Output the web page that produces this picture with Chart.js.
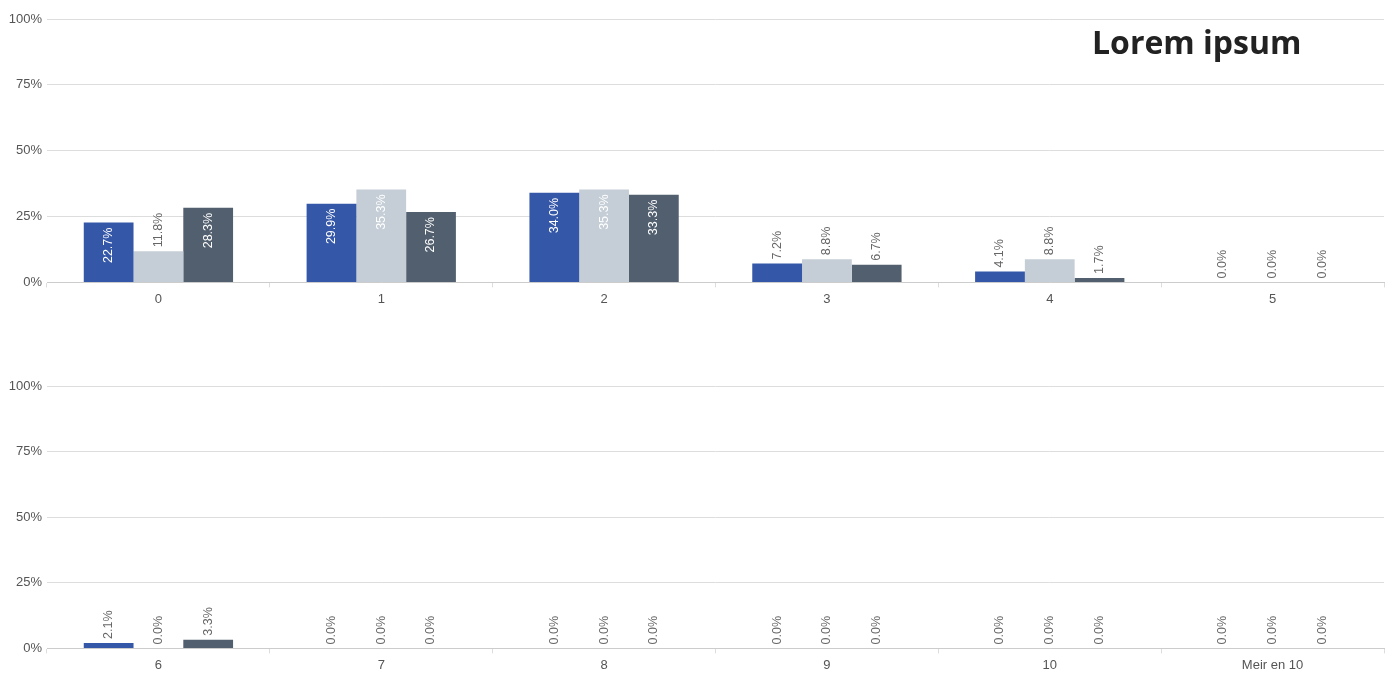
<!DOCTYPE html>
<html lang="en">
<head>
    <meta charset="UTF-8">
    <title>Lorem ipsum</title>
    <script src="https://cdn.jsdelivr.net/npm/chart.js"></script>
    <style>
        body { margin: 0; background: #fff; width: 1391px; height: 677px; overflow: hidden; position: relative; }
        .panel { position: absolute; left: 0; width: 1391px; }
        #title { position: absolute; left: 1092px; top: 20px; font-family: "Open Sans", sans-serif; font-weight: 700; font-size: 32px; color: #222; line-height: 44px; margin: 0; }
    </style>
</head>
<body>
    <div class="panel" style="top:0;height:311px"><canvas id="chartTop" width="1391" height="311"></canvas></div>
    <div class="panel" style="top:367px;height:310px"><canvas id="chartBottom" width="1391" height="310"></canvas></div>
    <h1 id="title">Lorem ipsum</h1>

    <script>
        // categories for the two panels
        const topLabels = ['0', '1', '2', '3', '4', '5'];
        const bottomLabels = ['6', '7', '8', '9', '10', 'Meir en 10'];

        // series values (percent)
        const serieA = [22.7, 29.9, 34.0, 7.2, 4.1, 0.0, 2.1, 0.0, 0.0, 0.0, 0.0, 0.0];
        const serieB = [11.8, 35.3, 35.3, 8.8, 8.8, 0.0, 0.0, 0.0, 0.0, 0.0, 0.0, 0.0];
        const serieC = [28.3, 26.7, 33.3, 6.7, 1.7, 0.0, 3.3, 0.0, 0.0, 0.0, 0.0, 0.0];

        const yTicks = [0, 25, 50, 75, 100];
        const colors = ['#3557a8', '#c5ced6', '#525f6e'];

        // value labels drawn rotated, inside the bar when they fit, otherwise above
        const barLabels = {
            id: 'barLabels',
            afterDatasetsDraw(chart) {
                const ctx = chart.ctx;
                ctx.save();
                ctx.font = '12.5px "Liberation Sans", Arial, sans-serif';
                ctx.textBaseline = 'middle';
                chart.data.datasets.forEach((ds, i) => {
                    const meta = chart.getDatasetMeta(i);
                    meta.data.forEach((bar, j) => {
                        const txt = ds.data[j].toFixed(1) + '%';
                        const w = ctx.measureText(txt).width;
                        const h = bar.base - bar.y;
                        ctx.save();
                        if (w + 10 <= h) {
                            ctx.translate(bar.x, bar.y + 5);
                            ctx.rotate(-Math.PI / 2);
                            ctx.textAlign = 'right';
                            ctx.fillStyle = '#ffffff';
                        } else {
                            ctx.translate(bar.x, bar.y - 4);
                            ctx.rotate(-Math.PI / 2);
                            ctx.textAlign = 'left';
                            ctx.fillStyle = '#666666';
                        }
                        ctx.fillText(txt, 0, 0);
                        ctx.restore();
                    });
                });
                ctx.restore();
            }
        };

        function makeChart(id, labels, from) {
            const ctx = document.getElementById(id).getContext('2d');
            return new Chart(ctx, {
                type: 'bar',
                data: {
                    labels: labels,
                    datasets: [serieA, serieB, serieC].map((s, i) => ({
                        data: s.slice(from, from + 6),
                        backgroundColor: colors[i],
                        categoryPercentage: 0.67,
                        barPercentage: 1.0
                    }))
                },
                options: {
                    responsive: false,
                    animation: false,
                    layout: { padding: { top: 19, right: 7, left: 0, bottom: 0 } },
                    plugins: { legend: { display: false }, tooltip: { enabled: false }, title: { display: false } },
                    scales: {
                        x: {
                            grid: { display: true, drawOnChartArea: false, tickLength: 5, color: '#dddddd' },
                            border: { color: '#cccccc', width: 1 },
                            ticks: { color: '#555', padding: 4, font: { size: 13, family: '"Liberation Sans", Arial, sans-serif' } }
                        },
                        y: {
                            min: 0, max: 100,
                            afterBuildTicks: s => { s.ticks = yTicks.map(v => ({ value: v })); },
                            afterFit: s => { s.width = 47; },
                            grid: { color: '#dddddd', drawTicks: false },
                            border: { display: false },
                            ticks: {
                                color: '#555', padding: 5,
                                font: { size: 13, family: '"Liberation Sans", Arial, sans-serif' },
                                callback: v => v + '%'
                            }
                        }
                    }
                },
                plugins: [barLabels]
            });
        }

        makeChart('chartTop', topLabels, 0);
        makeChart('chartBottom', bottomLabels, 6);
    </script>
</body>
</html>
